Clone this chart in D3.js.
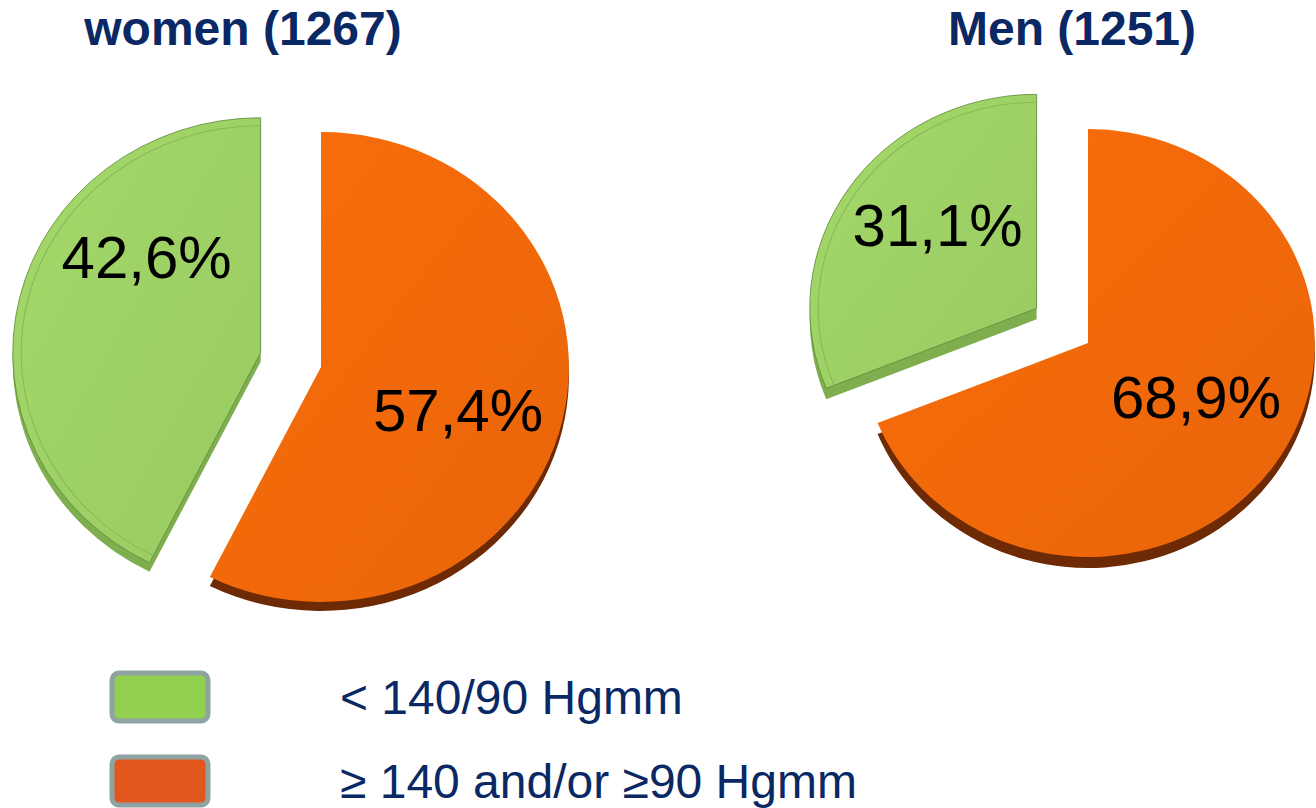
<!DOCTYPE html>
<html>
<head>
<meta charset="utf-8">
<script src="https://cdn.jsdelivr.net/npm/d3@7"></script>
<style>
  body { margin: 0; background: #fff; }
  svg { display: block; font-family: "Liberation Sans", Arial, sans-serif; }
</style>
</head>
<body>
<div id="chart"></div>
<script>
// data
var categories = ['< 140/90 Hgmm', '\u2265 140 and/or \u226590 Hgmm'];
var groups = ['women', 'Men'];
var counts = [1267, 1251];
var womenValues = [42.6, 57.4];
var menValues = [31.1, 68.9];

var topColors = ['#9dd065', '#f0680a'];
var sideColors = ['#7fae4f', '#6e2a04'];
var legendColors = ['#92d050', '#e2571e'];
var navy = '#0a2864';

var W = 1316, H = 808;
var svg = d3.select('#chart').append('svg')
  .attr('width', W)
  .attr('height', H);

var defs = svg.append('defs');
topColors.forEach(function(c, i) {
  var g = defs.append('linearGradient')
    .attr('id', 'grad' + i)
    .attr('x1', 0).attr('y1', 0).attr('x2', 1).attr('y2', 1);
  g.append('stop').attr('offset', 0).attr('stop-color', d3.color(c).brighter(0.12));
  g.append('stop').attr('offset', 1).attr('stop-color', d3.color(c).darker(0.08));
});

// layout for each pie: apex of the orange slice, radius, explode distance, label offsets
var pies = [
  { title: groups[0] + ' (' + counts[0] + ')', values: womenValues, cx: 321, cy: 367, r: 235, sx: 1.055, explode: 62, depth: 9, titleX: 243,
    labelPos: [[-114, -75], [137, 64]] },
  { title: groups[1] + ' (' + counts[1] + ')', values: menValues, cx: 1088, cy: 343, r: 214, sx: 1.06, explode: 62, depth: 11, titleX: 1072,
    labelPos: [[-99, -62], [108, 75]] }
];

var pie = d3.pie().sort(null).value(function(d) { return d.value; });

pies.forEach(function(p) {
  // orange first (starts at 12 o'clock), green after
  var slices = pie([{ cat: 1, value: p.values[1] }, { cat: 0, value: p.values[0] }]);
  var arc = d3.arc().innerRadius(0).outerRadius(p.r);
  var ring = d3.arc().innerRadius(p.r - 8).outerRadius(p.r - 8);

  var g = svg.append('g').attr('transform', 'translate(' + p.cx + ',' + p.cy + ')');

  slices.forEach(function(s) {
    var off = s.data.cat === 0 ? p.explode : 0;
    var mid = (s.startAngle + s.endAngle) / 2;
    var dx = Math.sin(mid) * off, dy = -Math.cos(mid) * off;
    var sg = g.append('g').attr('transform', 'translate(' + dx + ',' + dy + ') scale(' + p.sx + ',1)');

    sg.append('path')
      .attr('d', arc(s))
      .attr('transform', 'translate(0,' + p.depth + ')')
      .attr('fill', sideColors[s.data.cat]);
    sg.append('path')
      .attr('d', arc(s))
      .attr('fill', 'url(#grad' + s.data.cat + ')')
      .attr('stroke', s.data.cat === 0 ? '#5f8a3c' : 'none')
      .attr('stroke-width', 0.8);
    if (s.data.cat === 0) {
      sg.append('path')
        .attr('d', ring(s))
        .attr('fill', 'none')
        .attr('stroke', '#86b859')
        .attr('stroke-width', 1);
    }
  });

  svg.append('text')
    .attr('x', p.titleX)
    .attr('y', 45)
    .attr('text-anchor', 'middle')
    .attr('font-size', 48)
    .attr('font-weight', 'bold')
    .attr('fill', navy)
    .text(p.title);

  slices.forEach(function(s) {
    var off = s.data.cat === 0 ? p.explode : 0;
    var mid = (s.startAngle + s.endAngle) / 2;
    var lp = p.labelPos[s.data.cat];
    svg.append('text')
      .attr('x', p.cx + Math.sin(mid) * off + lp[0])
      .attr('y', p.cy - Math.cos(mid) * off + lp[1])
      .attr('text-anchor', 'middle')
      .attr('font-size', 60)
      .attr('fill', '#000')
      .text(d3.format('.1f')(s.data.value).replace('.', ',') + '%');
  });
});

// legend
var legendY = d3.scalePoint().domain(categories).range([697, 781]);
var legend = svg.selectAll('.legend')
  .data(categories)
  .enter().append('g')
  .attr('class', 'legend');

legend.append('rect')
  .attr('x', 112)
  .attr('y', function(d) { return legendY(d) - 24; })
  .attr('width', 96)
  .attr('height', 48)
  .attr('rx', 7)
  .attr('fill', function(d, i) { return legendColors[i]; })
  .attr('stroke', '#8fa3a3')
  .attr('stroke-width', 5);

legend.append('text')
  .attr('x', 340)
  .attr('y', function(d) { return legendY(d) + 17; })
  .attr('font-size', 48)
  .attr('fill', navy)
  .text(function(d) { return d; });
</script>
</body>
</html>
